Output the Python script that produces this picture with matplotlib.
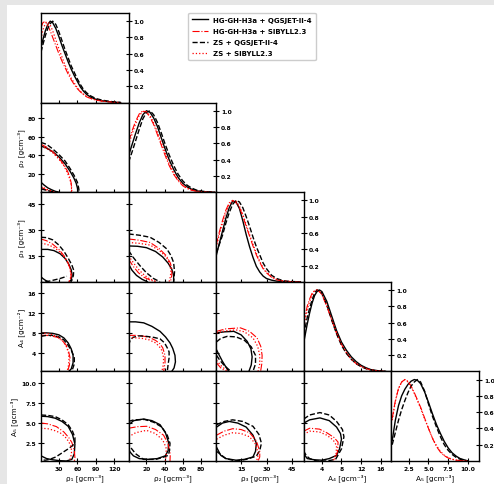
import matplotlib
matplotlib.use("Agg")
import matplotlib.pyplot as plt
from matplotlib.patches import Rectangle
from matplotlib.lines import Line2D

plt.rcParams['font.family'] = ['DejaVu Sans']
plt.rcParams['font.weight'] = 'bold'

# ---------------- data ----------------
series_names = ["HG-GH-H3a + QGSJET-II-4", "HG-GH-H3a + SIBYLL2.3",
                "ZS + QGSJET-II-4", "ZS + SIBYLL2.3"]
series_keys = ["HQ", "HS", "ZQ", "ZS"]
series_colors = ["black", "red", "black", "red"]
series_styles = ["-", "-.", "--", ":"]
series_widths = [1.0, 0.8, 1.0, 0.9]

xlabels = ["ρ₁ [gcm⁻³]", "ρ₂ [gcm⁻³]", "ρ₃ [gcm⁻³]", "A₄ [gcm⁻³]", "A₅ [gcm⁻³]"]
ylabels = [None, "ρ₂ [gcm⁻³]", "ρ₃ [gcm⁻³]", "A₄ [gcm⁻²]", "A₅ [gcm⁻³]"]
param_ticks = [[30, 60, 90, 120], [20, 40, 60, 80], [15, 30, 45],
               [4, 8, 12, 16], [2.5, 5.0, 7.5, 10.0]]
param_ticklabels = [["30", "60", "90", "120"], ["20", "40", "60", "80"],
                    ["15", "30", "45"], ["4", "8", "12", "16"],
                    ["2.5", "5.0", "7.5", "10.0"]]
param_limits = [(1, 143), (0.3, 97), (0.3, 52), (0.3, 18.2), (0.3, 11.4)]
diag_ticks = [0.2, 0.4, 0.6, 0.8, 1.0]

# 1D marginals (normalised to peak 1)
m1_x = [1, 4, 8, 12, 16, 20, 25, 30, 35, 40, 45, 50, 55, 60, 65, 70, 75, 82, 90, 100, 110, 120, 130]
m1_HQ = [0.68, 0.77, 0.88, 0.96, 1.00, 0.98, 0.91, 0.81, 0.70, 0.60, 0.50, 0.41, 0.33, 0.26, 0.19, 0.14, 0.10, 0.065, 0.04, 0.022, 0.012, 0.005, 0.0]
m1_HS = [0.92, 0.98, 1.00, 0.95, 0.88, 0.80, 0.70, 0.60, 0.51, 0.43, 0.35, 0.28, 0.22, 0.17, 0.13, 0.10, 0.07, 0.05, 0.03, 0.018, 0.01, 0.004, 0.0]
m1_ZQ = [0.62, 0.71, 0.82, 0.91, 0.97, 1.00, 0.96, 0.87, 0.76, 0.65, 0.55, 0.45, 0.37, 0.29, 0.22, 0.16, 0.12, 0.08, 0.05, 0.03, 0.018, 0.008, 0.003]
m1_ZS = [0.78, 0.89, 0.97, 0.99, 0.95, 0.88, 0.77, 0.66, 0.56, 0.46, 0.38, 0.30, 0.24, 0.18, 0.14, 0.10, 0.075, 0.05, 0.033, 0.02, 0.01, 0.004, 0.0]

m2_x = [0.3, 4, 8, 12, 16, 20, 24, 28, 32, 36, 40, 45, 50, 55, 60, 65, 70, 75, 80, 88, 95]
m2_HQ = [0.45, 0.58, 0.72, 0.85, 0.95, 1.00, 0.98, 0.91, 0.81, 0.68, 0.55, 0.40, 0.28, 0.18, 0.11, 0.065, 0.035, 0.018, 0.008, 0.002, 0.0]
m2_HS = [0.62, 0.75, 0.87, 0.96, 1.00, 0.98, 0.92, 0.83, 0.71, 0.59, 0.47, 0.33, 0.22, 0.14, 0.08, 0.045, 0.024, 0.012, 0.005, 0.001, 0.0]
m2_ZQ = [0.37, 0.49, 0.63, 0.77, 0.90, 0.98, 1.00, 0.95, 0.86, 0.74, 0.61, 0.46, 0.33, 0.22, 0.14, 0.085, 0.05, 0.027, 0.014, 0.004, 0.0]
m2_ZS = [0.58, 0.71, 0.84, 0.94, 0.99, 0.99, 0.94, 0.85, 0.74, 0.62, 0.50, 0.36, 0.24, 0.15, 0.09, 0.05, 0.028, 0.014, 0.006, 0.001, 0.0]

m3_x = [0.3, 2, 4, 6, 8, 10, 12, 14, 16, 18, 20, 22, 24, 26, 28, 30, 33, 36, 40, 45, 50]
m3_HQ = [0.32, 0.46, 0.62, 0.78, 0.91, 0.99, 0.98, 0.90, 0.75, 0.58, 0.43, 0.30, 0.19, 0.12, 0.07, 0.04, 0.02, 0.008, 0.002, 0.0, 0.0]
m3_HS = [0.45, 0.60, 0.75, 0.88, 0.97, 1.00, 0.97, 0.91, 0.81, 0.68, 0.56, 0.44, 0.33, 0.24, 0.16, 0.11, 0.055, 0.025, 0.008, 0.002, 0.0]
m3_ZQ = [0.35, 0.45, 0.57, 0.72, 0.85, 0.95, 1.00, 0.98, 0.91, 0.80, 0.68, 0.55, 0.43, 0.33, 0.23, 0.16, 0.08, 0.04, 0.012, 0.003, 0.0]
m3_ZS = [0.42, 0.57, 0.72, 0.85, 0.95, 0.99, 0.99, 0.93, 0.83, 0.70, 0.58, 0.46, 0.35, 0.25, 0.17, 0.12, 0.06, 0.028, 0.009, 0.002, 0.0]

m4_x = [0.3, 1, 1.5, 2, 2.5, 3, 3.5, 4, 5, 6, 7, 8, 9, 10, 11, 12, 13, 14, 15.5, 17]
m4_HQ = [0.36, 0.58, 0.72, 0.84, 0.93, 0.98, 1.00, 0.98, 0.86, 0.68, 0.50, 0.36, 0.26, 0.18, 0.12, 0.075, 0.045, 0.022, 0.008, 0.0]
m4_HS = [0.60, 0.80, 0.89, 0.96, 0.99, 1.00, 0.98, 0.94, 0.80, 0.63, 0.47, 0.33, 0.23, 0.15, 0.095, 0.06, 0.035, 0.018, 0.006, 0.0]
m4_ZQ = [0.45, 0.66, 0.78, 0.88, 0.96, 1.00, 0.99, 0.96, 0.82, 0.63, 0.46, 0.32, 0.22, 0.15, 0.095, 0.058, 0.034, 0.017, 0.005, 0.0]
m4_ZS = [0.55, 0.76, 0.86, 0.94, 0.99, 1.00, 0.98, 0.95, 0.81, 0.64, 0.47, 0.33, 0.23, 0.15, 0.098, 0.062, 0.037, 0.019, 0.006, 0.0]

m5_x = [0.4, 0.8, 1.2, 1.6, 2.0, 2.4, 2.8, 3.2, 3.6, 4.0, 4.5, 5.0, 5.5, 6.0, 6.5, 7.0, 7.5, 8.0, 8.5, 9.0, 10.0]
m5_HQ = [0.25, 0.50, 0.68, 0.80, 0.88, 0.94, 0.98, 1.00, 0.99, 0.95, 0.85, 0.72, 0.58, 0.45, 0.34, 0.24, 0.16, 0.10, 0.06, 0.03, 0.0]
m5_HS = [0.52, 0.74, 0.89, 0.97, 1.00, 0.98, 0.92, 0.84, 0.75, 0.66, 0.53, 0.40, 0.28, 0.18, 0.11, 0.065, 0.037, 0.02, 0.01, 0.005, 0.0]
m5_ZQ = [0.20, 0.35, 0.50, 0.63, 0.74, 0.84, 0.92, 0.97, 1.00, 0.97, 0.86, 0.70, 0.55, 0.42, 0.30, 0.20, 0.13, 0.08, 0.045, 0.022, 0.0]
m5_ZS = [0.50, 0.73, 0.89, 0.97, 1.00, 0.97, 0.91, 0.83, 0.74, 0.65, 0.52, 0.40, 0.28, 0.19, 0.12, 0.07, 0.04, 0.022, 0.011, 0.005, 0.0]

marg_x = [m1_x, m2_x, m3_x, m4_x, m5_x]
marg_y = [
    {"HQ": m1_HQ, "HS": m1_HS, "ZQ": m1_ZQ, "ZS": m1_ZS},
    {"HQ": m2_HQ, "HS": m2_HS, "ZQ": m2_ZQ, "ZS": m2_ZS},
    {"HQ": m3_HQ, "HS": m3_HS, "ZQ": m3_ZQ, "ZS": m3_ZS},
    {"HQ": m4_HQ, "HS": m4_HS, "ZQ": m4_ZQ, "ZS": m4_ZS},
    {"HQ": m5_HQ, "HS": m5_HS, "ZQ": m5_ZQ, "ZS": m5_ZS},
]

# 2D credible contours: panel (row, col) -> curves
c21 = {
    "HQ": [([1, 10, 20, 30, 40, 48, 54, 58, 60, 61], [50, 48, 44, 38.5, 31, 23, 16, 10, 5, 0.3]),
           ([1, 6, 12, 18, 24, 30], [11, 8, 5, 3, 1.3, 0.3])],
    "HS": [([1, 10, 20, 30, 38, 44, 48, 50, 50.5, 50], [52, 49, 44, 37, 30, 23, 16, 10, 5, 0.3]),
           ([1, 5, 10, 16, 22], [6, 4.3, 2.7, 1.3, 0.3])],
    "ZQ": [([1, 10, 20, 30, 40, 48, 55, 60, 62, 63], [54, 52, 47, 41, 34, 26, 18, 11, 5, 0.3]),
           ([1, 7, 14, 21, 28], [4, 2.8, 1.7, 0.8, 0.3])],
    "ZS": [([1, 10, 20, 30, 38, 44, 48, 50, 51, 50.5], [50, 47.5, 43, 36, 29, 21, 14, 8, 3, 0.3]),
           ([1, 6, 12, 18, 24], [7, 5, 3, 1.5, 0.3])],
}
c31 = {
    "HQ": [([1, 12, 22, 32, 40, 46, 50, 51.5, 50, 47], [19, 19, 18.3, 16.5, 13.8, 10.5, 7.2, 4, 1.5, 0.3]),
           ([1, 4, 8, 13], [3.2, 2.2, 1.2, 0.3])],
    "HS": [([1, 10, 20, 30, 38, 44, 48, 50, 49, 46.5], [25, 24, 22, 19, 15.5, 12, 8, 4.5, 1.8, 0.3])],
    "ZQ": [([1, 10, 20, 30, 38, 45, 51, 54, 53.5, 51.5, 49.5], [26, 25.8, 24.5, 21.5, 18, 14, 10, 7, 4, 1.5, 0.3]),
           ([8, 16, 24, 32, 38, 43], [0.3, 0.8, 1.5, 2.2, 2.9, 3.5])],
    "ZS": [([1, 10, 20, 30, 38, 44, 48, 49.5, 48.5, 46], [22.5, 22, 20.5, 18, 15, 11.5, 8, 4.5, 1.8, 0.3])],
}
c32 = {
    "HQ": [([0.3, 10, 20, 30, 38, 44, 48, 50, 50], [21, 20.8, 20, 17.8, 14.6, 11, 7.5, 4, 0.3]),
           ([0.3, 4, 9, 15, 21], [10.5, 7, 4, 1.8, 0.3])],
    "HS": [([0.3, 12, 24, 34, 42, 46.5, 48, 48, 46.5], [25, 24.3, 23, 19.5, 15.3, 11, 7.6, 4, 0.3]),
           ([0.3, 5, 11, 17, 24, 30], [13.4, 9.5, 5.6, 3, 1.3, 0.3])],
    "ZQ": [([0.3, 12, 24, 34, 42.6, 47, 50, 51, 50], [27.9, 27.2, 26, 23, 19.2, 15.5, 11.4, 6, 0.3]),
           ([0.3, 6, 13, 20, 27.8, 35], [18.2, 14, 9.5, 5.5, 2.2, 0.3])],
    "ZS": [([0.3, 12, 24, 34, 42, 45.5, 47, 46.5, 45], [23, 22.5, 21.5, 18.5, 14.5, 10.5, 7, 3.5, 0.3]),
           ([0.3, 6, 12, 18, 24, 32], [15.3, 11, 7, 4, 1.8, 0.3])],
}
c41 = {
    "HQ": [([1, 10, 20, 30, 38, 45, 50, 53, 53, 50, 46], [8, 8, 7.9, 7.6, 7, 6, 4.8, 3.5, 2, 0.8, 0.3])],
    "HS": [([1, 10, 20, 28, 36, 42, 46, 48, 47, 44], [7.5, 7.5, 7.3, 7.1, 6.4, 5.5, 4.2, 3, 1.5, 0.3])],
    "ZQ": [([1, 10, 20, 30, 38, 45, 51, 55, 55, 52, 49], [7.3, 7.5, 7.5, 7.2, 6.6, 5.5, 4.3, 3, 1.8, 0.7, 0.3])],
    "ZS": [([1, 10, 20, 28, 36, 42, 45.5, 46.5, 45, 43], [8, 7.9, 7.6, 7.2, 6.4, 5.3, 4, 2.5, 1, 0.3])],
}
c42 = {
    "HQ": [([0.3, 8, 17, 26, 35, 41, 46, 49, 51.5, 52, 50.5, 48], [10.2, 10.2, 10, 9.3, 8.3, 7.2, 6, 4.9, 3.5, 2.2, 1, 0.3])],
    "HS": [([0.3, 8, 15, 23, 30, 35, 38, 40.5, 40.5, 39], [7.5, 7.5, 7.4, 7.1, 6.5, 5.8, 5, 3.5, 2, 0.3])],
    "ZQ": [([0.3, 2, 5, 12, 20, 28, 35, 40, 43, 45, 45, 44, 43], [5.5, 6.5, 7.1, 7.4, 7.3, 7.1, 6.8, 6, 5, 4.2, 3, 1.8, 0.3])],
    "ZS": [([0.3, 8, 15, 23, 30, 34, 37, 39, 38.5, 37], [7, 7, 6.9, 6.6, 6, 5.3, 4.5, 3, 1.5, 0.3])],
}
c43 = {
    "HQ": [([0.5, 5, 10.7, 15, 18.6, 20.8, 21.5, 21, 19.6], [8, 8.2, 8.3, 7.6, 6.3, 4.8, 3.2, 1.6, 0.3]),
           ([0.5, 2, 4, 6, 7.7], [4.6, 3.6, 2.3, 1.2, 0.3])],
    "HS": [([0.5, 6, 14.6, 20, 24.4, 26.6, 27.4, 27.2, 26.5], [8.3, 8.8, 9, 8.3, 7, 5.3, 3.5, 1.8, 0.3]),
           ([0.5, 3, 6], [2, 1, 0.3])],
    "ZQ": [([0.5, 3, 6.8, 12, 17, 21, 23.5, 23.5, 22], [6.2, 6.9, 7.3, 7.2, 6.5, 5.2, 3.5, 1.8, 0.3]),
           ([0.5, 2.5, 5, 9], [3.5, 2.5, 1.5, 0.3])],
    "ZS": [([0.5, 6, 12, 17, 22, 24.8, 26, 26, 25], [8, 8.4, 8.6, 8.2, 7, 5.3, 3.5, 1.8, 0.3]),
           ([0.5, 3, 6, 8], [2.5, 1.5, 0.6, 0.3])],
}
c51 = {
    "HQ": [([1, 12, 24, 35, 45, 52, 56, 55, 51, 42, 30, 20, 10, 1],
            [5.85, 5.8, 5.6, 5.2, 4.6, 3.6, 2.4, 1.2, 0.5, 0.3, 0.35, 0.45, 0.6, 0.94])],
    "HS": [([1, 12, 26, 38, 46, 51, 55, 56, 55], [5.0, 4.9, 4.56, 3.9, 3.2, 2.6, 1.6, 0.7, 0.3])],
    "ZQ": [([1, 12, 24, 35, 45, 52, 56, 56, 52, 45, 35, 25, 15, 8, 1],
            [6.0, 5.95, 5.8, 5.4, 4.8, 4.0, 3.2, 2.6, 2.2, 1.8, 1.3, 0.8, 0.5, 0.4, 0.45])],
    "ZS": [([1, 12, 22, 32, 40, 46, 50, 50.5, 48, 46], [4.36, 4.3, 4.1, 3.8, 3.3, 2.7, 2.0, 1.2, 0.5, 0.3])],
}
c52 = {
    "HQ": [([0.3, 6, 16.7, 26, 35, 41, 44.4, 44, 40.8, 32, 22.2, 12, 5.6, 2, 0.3],
            [4.8, 5.3, 5.5, 5.3, 4.8, 3.8, 2.6, 1.6, 0.94, 0.6, 0.5, 0.6, 0.94, 1.4, 1.8])],
    "HS": [([0.3, 10, 20.4, 30, 38.9, 44, 46.3, 46], [4.36, 4.55, 4.6, 4.2, 3.5, 2.4, 1.15, 0.3])],
    "ZQ": [([0.3, 6, 18, 28, 37, 43, 46, 45.5, 44, 37, 30, 22, 16.7, 8, 0.3],
            [5.2, 5.4, 5.45, 5.1, 4.5, 3.5, 2.5, 1.6, 1.0, 0.7, 0.5, 0.5, 0.5, 1.2, 2.3])],
    "ZS": [([0.3, 8, 20, 30, 38, 41.5, 42, 40.8], [3.3, 3.8, 4.1, 3.7, 2.9, 2, 1.2, 0.3])],
}
c53 = {
    "HQ": [([0.5, 4, 8, 13, 18, 22, 24, 23.5, 22, 17, 12, 6, 3, 0.5],
            [4.5, 5.0, 5.2, 5.0, 4.5, 3.5, 2.5, 1.5, 0.8, 0.5, 0.4, 0.6, 1, 2])],
    "HS": [([0.5, 5, 10, 15, 20, 24, 26, 26, 25], [3.5, 4.0, 4.3, 4.2, 3.8, 2.8, 1.5, 0.8, 0.3])],
    "ZQ": [([0.5, 5, 10, 16, 22, 25.5, 27, 26, 24, 18, 12, 6, 0.5],
            [4.8, 5.2, 5.4, 5.2, 4.6, 3.6, 2.5, 1.6, 0.9, 0.5, 0.3, 0.6, 1.5])],
    "ZS": [([0.5, 5, 10, 15, 20, 23.5, 25, 24.8, 24], [3.0, 3.5, 3.8, 3.7, 3.3, 2.4, 1.3, 0.7, 0.3])],
}
c54 = {
    "HQ": [([0.3, 1.5, 3.6, 5.5, 7, 7.8, 8, 7.6, 7, 5.5, 4, 2.5, 1, 0.3],
            [5.0, 5.4, 5.64, 5.3, 4.5, 3.7, 3, 1.8, 1, 0.6, 0.4, 0.45, 0.6, 1.2])],
    "HS": [([0.3, 1.5, 3.5, 5, 6.5, 7.3, 7.2, 6.5], [4.0, 4.36, 4.25, 3.8, 3.2, 2.64, 1.5, 0.3])],
    "ZQ": [([0.3, 1.5, 3.6, 5.5, 7, 8.2, 8.5, 8, 6.8, 5, 3, 1.5, 0.85, 0.3],
            [5.5, 6.0, 6.3, 6.0, 5.2, 4.2, 3.3, 1.8, 0.5, 0.3, 0.3, 0.6, 0.94, 1.5])],
    "ZS": [([0.3, 1.5, 3.5, 5, 6.3, 7, 6.9, 6.3], [3.6, 4.0, 3.9, 3.5, 2.9, 2.2, 1.2, 0.3])],
}
contours = {(1, 0): c21, (2, 0): c31, (2, 1): c32, (3, 0): c41, (3, 1): c42,
            (3, 2): c43, (4, 0): c51, (4, 1): c52, (4, 2): c53, (4, 3): c54}

# ---------------- figure ----------------
W, H = 494, 485
fig = plt.figure(figsize=(W / 100, H / 100), dpi=100, facecolor='#e6e6e6')
fig.patches.append(Rectangle((7 / W, 0), (W - 7) / W, (H - 6) / H,
                             transform=fig.transFigure, facecolor='white',
                             edgecolor='none', zorder=-10))
gs = fig.add_gridspec(5, 5, left=41 / W, right=479 / W, bottom=1 - 462 / H,
                      top=1 - 14 / H, wspace=0, hspace=0)

tick_fs = 4.3
label_fs = 5.2
n = 5
for i in range(n):
    for j in range(i + 1):
        ax = fig.add_subplot(gs[i, j])
        for sp in ax.spines.values():
            sp.set_linewidth(1.0)
        ax.tick_params(direction='inout', length=4, width=0.8,
                       labelsize=tick_fs, pad=1.5)
        ax.set_xlim(*param_limits[j])
        ax.set_xticks(param_ticks[j])
        if i == j:
            for k, key in enumerate(series_keys):
                ax.plot(marg_x[i], marg_y[i][key], color=series_colors[k],
                        ls=series_styles[k], lw=series_widths[k])
            ax.set_ylim(0, 1.1)
            ax.yaxis.tick_right()
            ax.set_yticks(diag_ticks)
            ax.set_yticklabels([f"{t:.1f}" for t in diag_ticks])
        else:
            for k, key in enumerate(series_keys):
                for xs, ys in contours[(i, j)][key]:
                    ax.plot(xs, ys, color=series_colors[k],
                            ls=series_styles[k], lw=series_widths[k])
            ax.set_ylim(*param_limits[i])
            ax.set_yticks(param_ticks[i])
            if j == 0:
                ax.set_yticklabels(param_ticklabels[i])
                ax.set_ylabel(ylabels[i], fontsize=label_fs, labelpad=2)
            else:
                ax.set_yticklabels([])
        if i == n - 1:
            ax.set_xticklabels(param_ticklabels[j])
            ax.set_xlabel(xlabels[j], fontsize=label_fs, labelpad=2)
        else:
            ax.set_xticklabels([])

handles = [Line2D([], [], color=series_colors[k], ls=series_styles[k],
                  lw=series_widths[k]) for k in range(4)]
fig.legend(handles, series_names, loc='upper left',
           bbox_to_anchor=(185 / W, 1 - 10.5 / H), fontsize=5,
           handlelength=2.2, borderpad=0.55, labelspacing=0.75,
           edgecolor='#cccccc', framealpha=1)

fig.savefig("out.png", dpi=100, facecolor=fig.get_facecolor())
